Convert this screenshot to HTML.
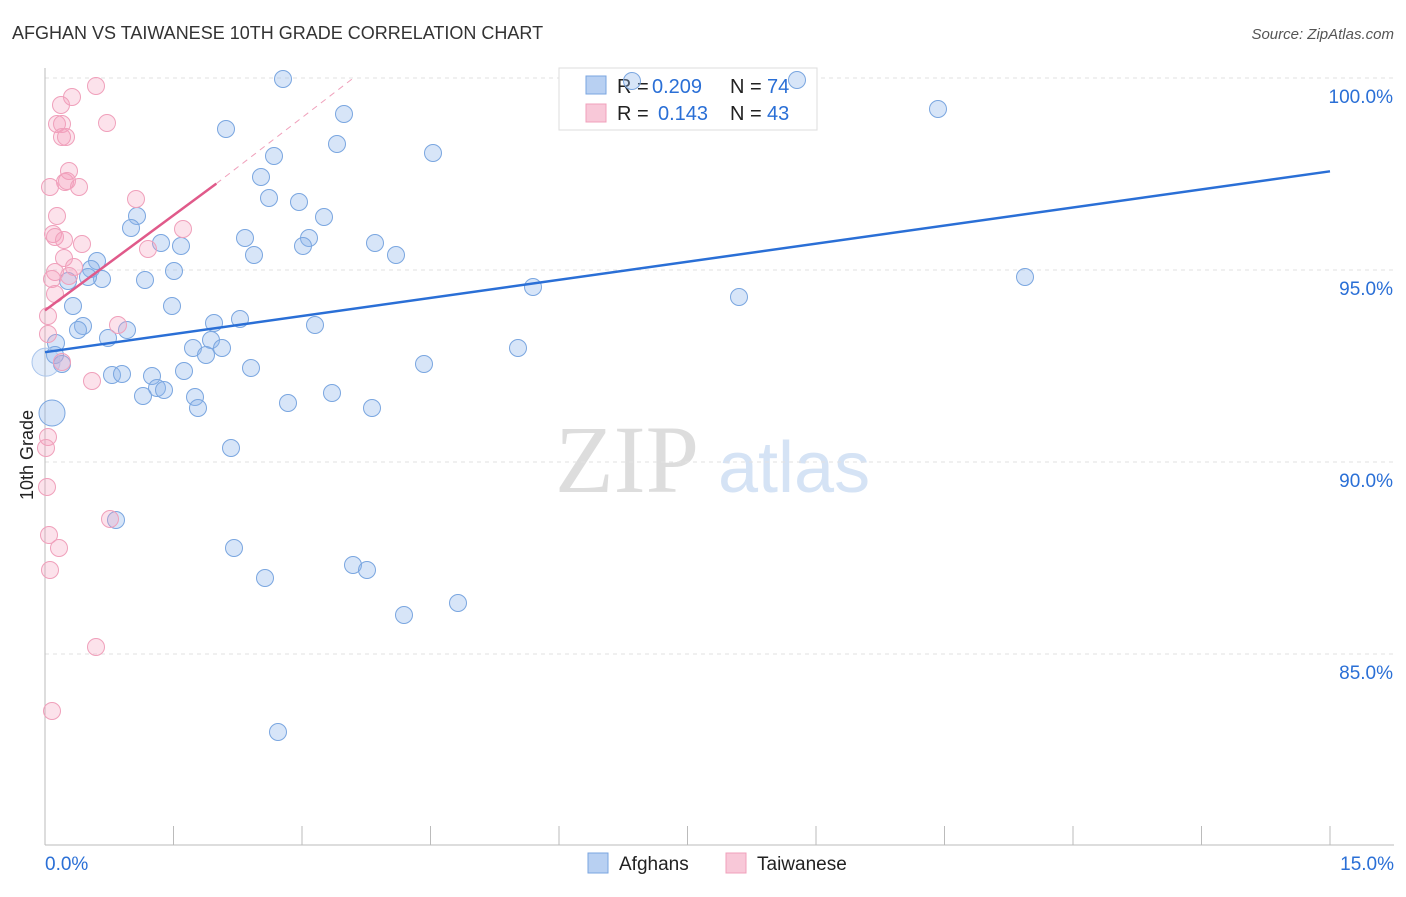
<!DOCTYPE html>
<html><head><meta charset="utf-8"><style>
body{margin:0;background:#fff;font-family:"Liberation Sans",sans-serif;}
</style></head><body>
<svg id="c" width="1406" height="892" xmlns="http://www.w3.org/2000/svg">
<text x="12" y="39" font-size="18" fill="#333">AFGHAN VS TAIWANESE 10TH GRADE CORRELATION CHART</text>
<text x="1394" y="39" font-size="15" fill="#555" font-style="italic" text-anchor="end">Source: ZipAtlas.com</text>
<text x="555" y="492" font-size="96" fill="#ddd" font-family="Liberation Serif,serif">ZIP</text>
<text x="718" y="492" font-size="72" fill="#d5e3f5">atlas</text>
<g id="grid"></g>
<g>
<rect x="559" y="68" width="258" height="62" fill="#fff" stroke="#ddd"/>
<rect x="586" y="76" width="20" height="18" fill="#b8d0f2" stroke="#7aa6e0"/>
<text x="617" y="93" font-size="20" fill="#222">R =</text>
<text x="652" y="93" font-size="20" fill="#2a6fd6">0.209</text>
<text x="730" y="93" font-size="20" fill="#222">N =</text>
<text x="767" y="93" font-size="20" fill="#2a6fd6">74</text>
<rect x="586" y="104" width="20" height="18" fill="#f8c8d8" stroke="#f0a0bb"/>
<text x="617" y="120" font-size="20" fill="#222">R =</text>
<text x="658" y="120" font-size="20" fill="#2a6fd6">0.143</text>
<text x="730" y="120" font-size="20" fill="#222">N =</text>
<text x="767" y="120" font-size="20" fill="#2a6fd6">43</text>
</g>
<g id="pts"></g>
<g id="trend"></g>
<text transform="translate(33,455) rotate(-90)" font-size="18" fill="#222" text-anchor="middle">10th Grade</text>
<g>
<rect x="588" y="853" width="20" height="20" fill="#b8d0f2" stroke="#7aa6e0"/>
<text x="619" y="870" font-size="19" fill="#222">Afghans</text>
<rect x="726" y="853" width="20" height="20" fill="#f8c8d8" stroke="#f0a0bb"/>
<text x="757" y="870" font-size="19" fill="#222">Taiwanese</text>
</g>
</svg>
<script>
const yTicks=[100,95,90,85];
const yTickLabels=["100.0%","95.0%","90.0%","85.0%"];
const xTickLabels=["0.0%","15.0%"];
const afgX=[283,632,797,938,226,344,337,433,274,261,269,299,324,137,131,245,309,161,181,303,375,254,396,97,91,174,68,102,88,145,533,739,1025,73,172,214,240,315,83,78,127,108,56,211,193,222,206,518,55,62,424,251,112,122,152,184,157,164,143,195,332,198,288,372,52,231,116,234,265,353,367,458,404,278].map(p=>(p-45)/1285*15);
const afgY=[79,81,80,109,129,114,144,153,156,177,198,202,217,216,228,238,238,243,246,246,243,255,255,261,269,271,281,279,277,280,287,297,277,306,306,323,319,325,326,330,330,338,343,340,348,348,355,348,355,364,364,368,375,374,376,371,388,390,396,397,393,408,403,408,413,448,520,548,578,565,570,603,615,732].map(p=>100-(p-78)/192*5);
const twX=[96,72,61,107,57,62,62,66,69,65,67,50,79,136,57,183,53,55,64,82,148,64,74,55,69,52,55,48,118,48,62,92,48,46,47,110,49,59,50,96,52].map(p=>(p-45)/1285*15);
const twY=[86,97,105,123,124,124,137,137,171,182,181,187,187,199,216,229,234,237,240,244,249,258,267,272,276,279,294,316,325,334,362,381,437,448,487,519,535,548,570,647,711].map(p=>100-(p-78)/192*5);
const afgTrend=[[0,92.86],[15,97.57]];
const twTrend=[[0,93.95],[2,97.25],[3.6,100]];
const X=v=>45+v/15*1285, Y=v=>78+(100-v)/5*192;
const NS="http://www.w3.org/2000/svg";
function mk(t,a,p){const e=document.createElementNS(NS,t);for(const k in a)e.setAttribute(k,a[k]);p.appendChild(e);return e;}
const g=document.getElementById('grid');
yTicks.forEach((t,i)=>{
 const l=mk('line',{x1:45,x2:1394,y1:Y(t),y2:Y(t),stroke:'#e2e2e2','stroke-dasharray':'4,4'},g);
 
 
 const tx=mk('text',{x:1393,y:Y(t)+25,'font-size':19,fill:'#2a6fd6','text-anchor':'end'},g);tx.textContent=yTickLabels[i];
 
 
});
mk('line',{x1:45,x2:45,y1:68,y2:845,stroke:'#bbb'},g);
mk('line',{x1:45,x2:1394,y1:845,y2:845,stroke:'#bbb'},g);
for(let i=0;i<=10;i++){mk('line',{x1:X(i*1.5),x2:X(i*1.5),y1:826,y2:845,stroke:'#bbb'},g);}
[[0,'start',45],[1,'end',1394]].forEach(([i,a,x])=>{const t=mk('text',{x:x,y:870,'font-size':19,fill:'#2a6fd6','text-anchor':a},g);t.textContent=xTickLabels[i];
 
 });
const p=document.getElementById('pts');
afgX.forEach((x,i)=>{const big=(i==64);const c=mk('circle',{cx:X(x),cy:Y(afgY[i]),r:big?13:8.5,fill:'rgba(140,180,235,0.35)',stroke:'#7aa6e0','stroke-width':1},p);
 
 });
mk('circle',{cx:46,cy:Y(92.6),r:14,fill:'rgba(140,180,235,0.25)',stroke:'#a9c5ec'},p);
twX.forEach((x,i)=>{const c=mk('circle',{cx:X(x),cy:Y(twY[i]),r:8.5,fill:'rgba(245,160,190,0.3)',stroke:'#f0a0bb','stroke-width':1},p);
 
 });
const tr=document.getElementById('trend');
const bl=mk('line',{x1:X(afgTrend[0][0]),y1:Y(afgTrend[0][1]),x2:X(afgTrend[1][0]),y2:Y(afgTrend[1][1]),stroke:'#2a6fd6','stroke-width':2.5},tr);


const pl=mk('line',{x1:X(twTrend[0][0]),y1:Y(twTrend[0][1]),x2:X(twTrend[1][0]),y2:Y(twTrend[1][1]),stroke:'#e05a8a','stroke-width':2.5},tr);


mk('line',{x1:X(twTrend[1][0]),y1:Y(twTrend[1][1]),x2:X(twTrend[2][0]),y2:Y(twTrend[2][1]),stroke:'#f0a0bb','stroke-width':1,'stroke-dasharray':'6,5'},tr);
</script>
</body></html>
